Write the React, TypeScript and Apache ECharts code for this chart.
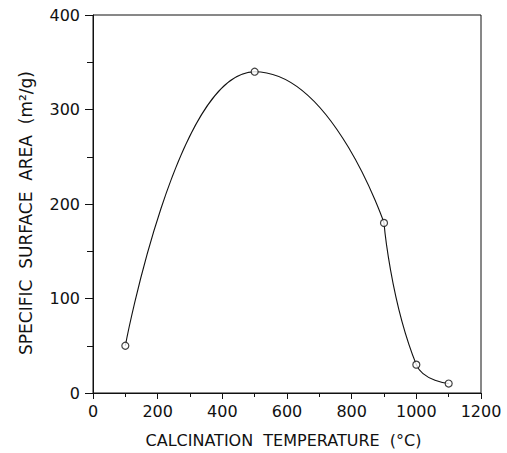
import React, { useEffect, useRef } from 'react';
import * as echarts from 'echarts';

const temperatureC = [100, 500, 900, 1000, 1100];
const surfaceArea = [50, 340, 180, 30, 10];
const xAxisTitle = 'CALCINATION  TEMPERATURE  (°C)';
const yAxisTitle = 'SPECIFIC  SURFACE  AREA  (m²/g)';

export default function App() {
  const ref = useRef<HTMLDivElement>(null);
  useEffect(() => {
    const chart = echarts.init(ref.current!, null, { renderer: 'svg' });
    const pts = temperatureC.map((t, i) => [t, surfaceArea[i]]);
    const rising = pts.slice(0, 3);
    const falling = pts.slice(2);
    const font = 'DejaVu Sans';
    const ink = '#111';
    const axisCommon = {
      type: 'value',
      axisLine: { show: true, lineStyle: { color: ink, width: 1 } },
      splitLine: { show: false },
      minorSplitLine: { show: false },
    };
    chart.setOption({
      animation: false,
      backgroundColor: '#fff',
      grid: {
        left: 93, right: 26, top: 15, bottom: 56.5,
        show: true, borderColor: ink, borderWidth: 1, backgroundColor: 'transparent',
      },
      xAxis: {
        ...axisCommon,
        min: 0, max: 1200, interval: 200,
        axisTick: { show: true, inside: false, length: 6, lineStyle: { color: ink } },
        minorTick: { show: true, splitNumber: 2, length: 4, lineStyle: { color: ink } },
        axisLabel: { fontFamily: font, fontSize: 16, color: ink, margin: 10, formatter: (v: number) => String(v) },
        name: xAxisTitle,
        nameLocation: 'middle',
        nameGap: 39,
        nameTextStyle: { fontFamily: font, fontSize: 16, color: ink, padding: [0, 7, 0, 0] },
      },
      yAxis: {
        ...axisCommon,
        min: 0, max: 400, interval: 100,
        axisTick: { show: true, inside: false, length: 8, lineStyle: { color: ink } },
        minorTick: { show: true, splitNumber: 2, length: 6, lineStyle: { color: ink } },
        axisLabel: { fontFamily: font, fontSize: 16, color: ink, margin: 13, formatter: (v: number) => String(v) },
        name: yAxisTitle,
        nameLocation: 'middle',
        nameGap: 59,
        nameTextStyle: { fontFamily: font, fontSize: 17, color: ink, padding: [0, 18, 0, 0] },
      },
      series: [
        {
          type: 'line',
          data: rising,
          smooth: 0.6,
          smoothMonotone: 'x',
          showSymbol: false,
          lineStyle: { color: ink, width: 1.1 },
          z: 2,
        },
        {
          type: 'line',
          data: falling,
          smooth: 0.5,
          showSymbol: false,
          lineStyle: { color: ink, width: 1.1 },
          z: 2,
        },
        {
          type: 'scatter',
          data: pts,
          symbol: 'circle',
          symbolSize: 7,
          itemStyle: { color: '#fff', borderColor: ink, borderWidth: 1.2 },
          z: 5,
        },
      ],
    });
    return () => chart.dispose();
  }, []);
  return (
    <div
      ref={ref}
      style={{ position: 'fixed', left: 0, top: 0, width: 507, height: 453, background: '#fff' }}
    />
  );
}
